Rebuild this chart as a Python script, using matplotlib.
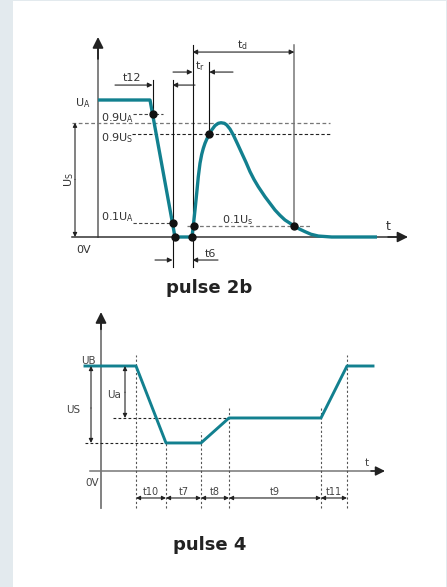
import matplotlib.pyplot as plt
from matplotlib.patches import Rectangle

# ---- pulse 2b data (time in arbitrary units, voltage as fraction of UA)
UA = 1.0
US = 0.834
p2b_t = [0.0, 5.2, 7.7, 9.4, 9.53, 9.7, 9.87, 10.03, 10.2, 10.37, 10.53, 10.7, 10.87, 11.13,
         11.37, 11.7, 12.03, 12.3, 12.63, 12.87, 13.2, 13.53, 13.95, 14.37, 14.8, 15.2, 15.6,
         16.03, 16.7, 17.7, 18.2, 18.7, 19.63, 20.15, 20.7, 21.3, 22.03, 23.37, 27.9]
p2b_v = [1.0, 1.0, 0.0, 0.0, 0.082, 0.197, 0.319, 0.44, 0.538, 0.603, 0.647, 0.684, 0.713, 0.752,
         0.781, 0.813, 0.830, 0.834, 0.830, 0.818, 0.788, 0.745, 0.68, 0.613, 0.545, 0.477, 0.42,
         0.367, 0.294, 0.197, 0.158, 0.124, 0.080, 0.058, 0.039, 0.02, 0.007, 0.0, 0.0]
dot_t = [5.45, 7.45, 7.7, 9.4, 9.55, 11.13, 19.63]
dot_v = [0.9, 0.1, 0.0, 0.0, 0.08, 0.75, 0.08]

# ---- pulse 4 data (voltage as fraction of UB)
p4_t = [-1.6, 3.5, 6.5, 10.0, 12.8, 22.0, 24.6, 27.2]
p4_v = [1.0, 1.0, 0.267, 0.267, 0.505, 0.505, 1.0, 1.0]
p4_marks = [3.5, 6.5, 10.0, 12.8, 22.0, 24.6]
p4_names = ['t10', 't7', 't8', 't9', 't11']

TEAL = '#12808f'
TXT = '#333333'
W, H = 447, 587

fig = plt.figure(figsize=(W / 100, H / 100), dpi=100)
fig.patch.set_facecolor('#e3eaee')
fig.patches.append(Rectangle((13 / W, 0), (446 - 13) / W, (H - 1) / H, zorder=-5,
                             transform=fig.transFigure, facecolor='white', edgecolor='none'))
plt.rcParams['mathtext.fontset'] = 'dejavusans'


def place(box, x0, xs, y0, ys):
    l, t, r, b = box
    ax = fig.add_axes([l / W, 1 - b / H, (r - l) / W, (b - t) / H])
    ax.set_xlim((l - x0) / xs, (r - x0) / xs)
    ax.set_ylim((y0 - b) / ys, (y0 - t) / ys)
    ax.axis('off')
    return ax


def arrow(ax, p0, p1, style='-|>', ms=7, lw=0.8, color='#222222'):
    ax.annotate('', xy=p1, xytext=p0,
                arrowprops=dict(arrowstyle=style, mutation_scale=ms, lw=lw, color=color,
                                shrinkA=0, shrinkB=0))


# ================= pulse 2b =================
ax = place((13, 1, 446, 300), 98, 10, 237, 137)
ax.plot([0, 0], [0, 1.40], color='#777777', lw=1.3)
arrow(ax, (0, 1.30), (0, 1.46), ms=16, lw=1.3, color='#222222')
ax.plot([-2.6, 30.0], [0, 0], color='#333333', lw=1.1)
arrow(ax, (29.0, 0), (31.0, 0), ms=16, lw=1.1, color='#222222')

# level lines
ax.plot([-2.6, 23.2], [US, US], ls=(0, (3, 2)), color='#777777', lw=0.9)
ax.plot([3.4, 23.2], [0.9 * US, 0.9 * US], ls=(0, (3, 2)), color='#222222', lw=0.8)
ax.plot([3.5, 6.5], [0.9 * UA, 0.9 * UA], ls=(0, (3, 2)), color='#444444', lw=0.8)
ax.plot([3.5, 7.45], [0.1 * UA, 0.1 * UA], ls=(0, (3, 2)), color='#444444', lw=0.8)
ax.plot([8.9, 21.2], [0.08, 0.08], ls=(0, (3, 2)), color='#777777', lw=0.9)

# reference verticals
ax.plot([5.45, 5.45], [0.9, 1.146], color='#111111', lw=0.8)
ax.plot([7.45, 7.45], [-0.219, 1.146], color='#111111', lw=0.8)
ax.plot([9.45, 9.45], [-0.219, 1.40], color='#111111', lw=0.8)
ax.plot([11.13, 11.13], [0.75, 1.277], color='#111111', lw=0.8)
ax.plot([19.63, 19.63], [0.08, 1.40], color='#777777', lw=1.1)

# waveform
ax.plot(p2b_t, p2b_v, color=TEAL, lw=2.4, solid_capstyle='butt', solid_joinstyle='round',
        zorder=3)
ax.plot(dot_t, dot_v, 'o', color='#111111', ms=5, zorder=4)

# dimension arrows
arrow(ax, (1.7, 1.109), (5.45, 1.109))
arrow(ax, (9.7, 1.109), (7.45, 1.109))
arrow(ax, (7.5, 1.204), (9.45, 1.204))
arrow(ax, (13.5, 1.204), (11.13, 1.204))
arrow(ax, (9.45, 1.35), (19.63, 1.35), style='<|-|>')
arrow(ax, (5.7, -0.168), (7.45, -0.168))
arrow(ax, (12.0, -0.168), (9.45, -0.168))
arrow(ax, (-2.3, 0.42), (-2.3, US), ms=6)
arrow(ax, (-2.3, 0.42), (-2.3, 0), ms=6)

fs = 8
ax.text(3.4, 1.16, 't12', fontsize=fs, color=TXT, ha='center', va='center')
ax.text(10.2, 1.25, r't$_\mathregular{r}$', fontsize=fs, color=TXT, ha='center', va='center')
ax.text(14.4, 1.40, r't$_\mathregular{d}$', fontsize=fs, color=TXT, ha='center', va='center')
ax.text(11.2, -0.124, 't6', fontsize=fs, color=TXT, ha='center', va='center')
ax.text(-1.5, 0.978, r'U$_\mathregular{A}$', fontsize=fs, color=TXT, ha='center', va='center')
ax.text(0.3, 0.869, r'0.9U$_\mathregular{A}$', fontsize=fs, color=TXT, ha='left', va='center')
ax.text(0.3, 0.723, r'0.9U$_\mathregular{S}$', fontsize=fs, color=TXT, ha='left', va='center')
ax.text(0.3, 0.146, r'0.1U$_\mathregular{A}$', fontsize=fs, color=TXT, ha='left', va='center')
ax.text(12.4, 0.124, r'0.1U$_\mathregular{s}$', fontsize=fs, color=TXT, ha='left', va='center')
ax.text(-2.9, 0.416, r'U$_\mathregular{S}$', fontsize=fs, color=TXT, ha='center', va='center',
        rotation=90)
ax.text(-1.4, -0.095, '0V', fontsize=fs, color=TXT, ha='center', va='center')
ax.text(29.0, 0.073, 't', fontsize=9, color=TXT, ha='center', va='center')
ax.text(11.1, -0.372, 'pulse 2b', fontsize=13, fontweight='bold', color='#222222',
        ha='center', va='center')

# ================= pulse 4 =================
ax = place((13, 300, 446, 587), 101, 10, 471, 105)
ax.plot([0, 0], [-0.352, 1.42], color='#777777', lw=1.3)
arrow(ax, (0, 1.35), (0, 1.514), ms=16, lw=1.3, color='#222222')
ax.plot([-1.1, 27.5], [0, 0], color='#777777', lw=1.1)
arrow(ax, (27.0, 0), (28.4, 0), ms=14, lw=1.1, color='#222222')

ax.plot([-1.6, 6.5], [0.267, 0.267], ls=(0, (2.5, 2)), color='#222222', lw=0.8)
ax.plot([1.2, 12.8], [0.505, 0.505], ls=(0, (2.5, 2)), color='#222222', lw=0.8)
tops = [1.105, 0.267, 0.371, 0.61, 0.61, 1.105]
for x, top in zip(p4_marks, tops):
    ax.plot([x, x], [-0.352, top], ls=(0, (2, 2)), color='#555555', lw=0.8)

ax.plot(p4_t, p4_v, color=TEAL, lw=2.1, zorder=3)

for i, name in enumerate(p4_names):
    a, b = p4_marks[i], p4_marks[i + 1]
    arrow(ax, (a, -0.257), (b, -0.257), style='<|-|>', ms=6, lw=0.8)
    ax.text((a + b) / 2, -0.2, name, fontsize=7, color='#444444', ha='center', va='center',
            family='Liberation Sans Narrow')

arrow(ax, (-1.0, 0.6), (-1.0, 1.0), ms=6)
arrow(ax, (-1.0, 0.6), (-1.0, 0.267), ms=6)
arrow(ax, (2.4, 0.75), (2.4, 1.0), ms=6)
arrow(ax, (2.4, 0.75), (2.4, 0.505), ms=6)

f4 = dict(fontsize=7.5, color='#444444', ha='center', va='center', family='Liberation Sans Narrow')
ax.text(-2.8, 0.58, 'US', **f4)
ax.text(1.3, 0.724, 'Ua', **f4)
ax.text(-1.3, 1.045, 'UB', **f4)
ax.text(-0.9, -0.114, '0V', **f4)
ax.text(26.6, 0.076, 't', **f4)
ax.text(10.9, -0.705, 'pulse 4', fontsize=13, fontweight='bold', color='#222222',
        ha='center', va='center')

fig.savefig('out.png', dpi=100, facecolor=fig.get_facecolor())
